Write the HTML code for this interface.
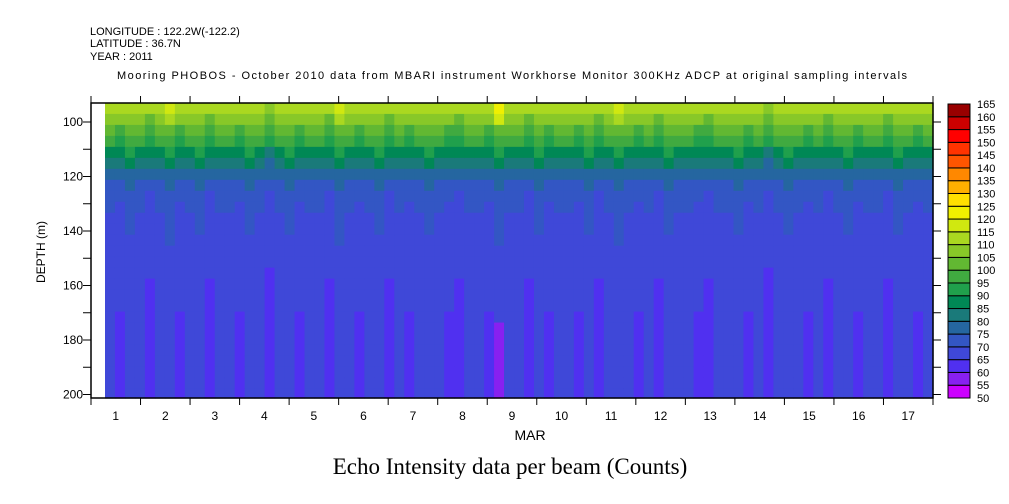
<!DOCTYPE html>
<html><head><meta charset="utf-8"><style>
body{margin:0;background:#fff}
svg{display:block;font-family:"Liberation Sans",sans-serif}
</style></head><body>
<svg id="chart" width="1009" height="504" viewBox="0 0 1009 504" xmlns="http://www.w3.org/2000/svg">
<g font-size="11" fill="#000">
<text x="90" y="35">LONGITUDE : 122.2W(-122.2)</text>
<text x="90" y="47">LATITUDE : 36.7N</text>
<text x="90" y="60">YEAR : 2011</text>
<text x="512" y="79" text-anchor="middle" textLength="790">Mooring PHOBOS - October 2010 data from MBARI instrument Workhorse Monitor 300KHz ADCP at original sampling intervals</text>
</g>
<g id="cells"></g>
<g id="axes"></g>
<g id="cbar"></g>
<text x="530" y="440" font-size="14" text-anchor="middle">MAR</text>
<text transform="translate(45,252) rotate(-90)" font-size="12" text-anchor="middle">DEPTH (m)</text>
<text x="510" y="474" font-family="Liberation Serif,serif" font-size="23" text-anchor="middle">Echo Intensity data per beam (Counts)</text>
</svg>
<script>
// data
const depthTop = 93;
const depthBin = 4.03;
const profile = [112.5,107,101,95,88,83,77.5,73.5,71,70,69,68.5,68,67.5,67.5,67,66.5,66,65.8,65.5,65.3,65.3,65.2,65.2,65.2,65.2,65.2];
const colAnom = [1,-1,2,0,-2,1,3,-1,0,2,-2,1,0,-1,2,1,-3,0,2,-1,1,0,-2,3,1,-1,0,2,-2,1,-1,0,2,1,-1,-2,0,1,-1,3,1,0,-2,2,-1,1,0,-1,2,-2,1,3,0,-1,1,-2,2,0,1,-1,-2,1,0,2,-1,1,-3,0,2,1,-1,0,-2,1,2,-1,0,1,-2,2,0,-1,1];
const spikeCol = 39;
const spikeTop = 8;
const spikeBottom = -8;
const levels = [50,55,60,65,70,75,80,85,90,95,100,105,110,115,120,125,130,135,140,145,150,155,160,165];
const colors = ["#cc00ff","#8820f0","#5030f0","#3f48d8","#3356c4","#2566a0","#1a7a7a","#008855","#20a04c","#40aa40","#62b832","#88c828","#aad820","#d0e810","#f0f000","#ffe000","#ffb000","#ff8800","#ff5500","#ff3300","#ff0000","#cc0000","#990000"];
const dayTicks = [1,2,3,4,5,6,7,8,9,10,11,12,13,14,15,16,17,18];
const depthTicks = [100,110,120,130,140,150,160,170,180,190,200];
const depthLabels = [100,120,140,160,180,200];

const NS="http://www.w3.org/2000/svg";
const L=91,R=933,T=103,B=398,dataL=105;
const xDay=d=>L+(d-1)*(R-L)/17;
const yDepth=z=>122+(z-100)*(54.5/20);
const colorOf=v=>{for(let i=levels.length-2;i>=0;i--) if(v>=levels[i]) return colors[i]; return colors[0];};
function mk(tag,attrs,parent){const e=document.createElementNS(NS,tag);for(const k in attrs)e.setAttribute(k,attrs[k]);parent.appendChild(e);return e;}

const cells=document.getElementById('cells');
const cw=(R-dataL)/colAnom.length;
for(let c=0;c<colAnom.length;c++){
  for(let r=0;r<profile.length;r++){
    let v=profile[r]+colAnom[c]*(r<6?1.2:0.8);
    if(c===spikeCol){ v += r<2?spikeTop:(r>19?spikeBottom:0); }
    const y0=Math.max(T,yDepth(depthTop+r*depthBin)), y1=Math.min(B,yDepth(depthTop+(r+1)*depthBin));
    const rc=mk('rect',{x:dataL+c*cw,y:y0,width:cw+0.6,height:y1-y0+0.6,fill:colorOf(v)},cells);
    
    
  }
}
const ax=document.getElementById('axes');
mk('rect',{x:L,y:T,width:R-L,height:B-T,fill:'none',stroke:'#000','stroke-width':1.5},ax);
dayTicks.forEach((d,i)=>{
  const x=xDay(d);
  mk('line',{x1:x,y1:B,x2:x,y2:B+7,stroke:'#000'},ax);
  mk('line',{x1:x,y1:T,x2:x,y2:T-7,stroke:'#000'},ax);
  if(i<dayTicks.length-1){
    const t=mk('text',{x:x+(R-L)/34,y:B+22,'font-size':12,'text-anchor':'middle'},ax);
    t.textContent=d;
    
    
  }
});
depthTicks.forEach(z=>{
  const y=yDepth(z);
  mk('line',{x1:L-8,y1:y,x2:L,y2:y,stroke:'#000'},ax);
  mk('line',{x1:R,y1:y,x2:R+8,y2:y,stroke:'#000'},ax);
});
depthLabels.forEach(z=>{
  const t=mk('text',{x:83,y:yDepth(z)+4,'font-size':12,'text-anchor':'end'},ax);
  t.textContent=z;
  
  
});
const cb=document.getElementById('cbar');
const cbT=104,cbB=398,cbH=(cbB-cbT)/colors.length;
colors.forEach((c,i)=>{
  const r=mk('rect',{x:948,y:cbB-(i+1)*cbH,width:22,height:cbH,fill:c,stroke:'#000','stroke-width':1},cb);
  
  
});
levels.forEach((l,i)=>{
  const t=mk('text',{x:977,y:cbB-i*cbH+4,'font-size':11},cb);
  t.textContent=l;
  
  
});
</script>
</body></html>
